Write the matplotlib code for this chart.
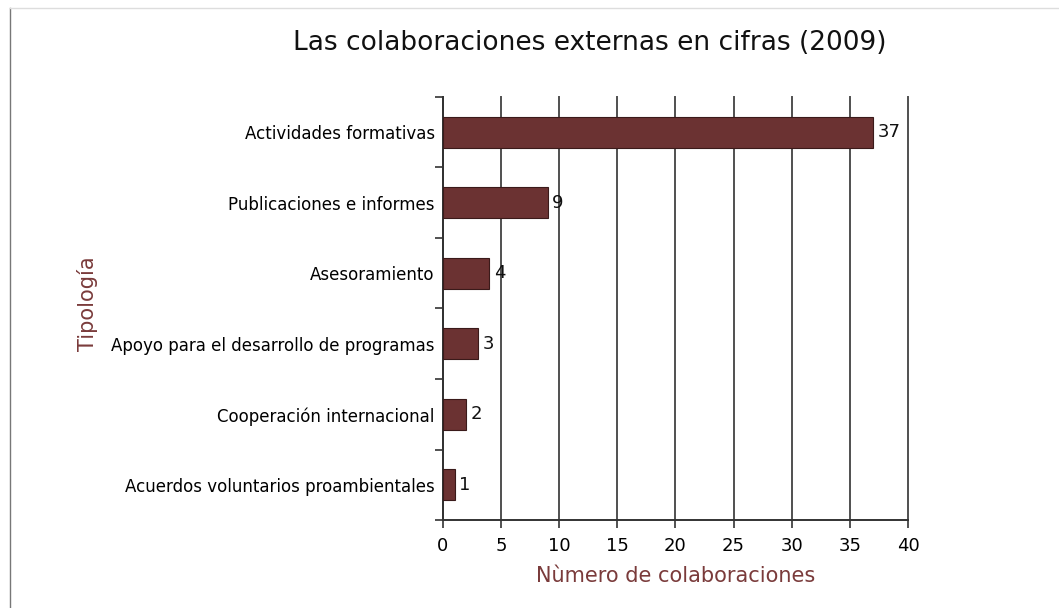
import matplotlib
matplotlib.use("Agg")
import matplotlib.pyplot as plt
from matplotlib.lines import Line2D
import numpy as np

categories = ["Actividades formativas", "Publicaciones e informes", "Asesoramiento",
              "Apoyo para el desarrollo de programas", "Cooperación internacional",
              "Acuerdos voluntarios proambientales"]
values = [37, 9, 4, 3, 2, 1]
xticks = [0, 5, 10, 15, 20, 25, 30, 35, 40]

bar_color = "#6B3232"
label_color = "#7A3B3B"
plt.rcParams['font.family'] = ['DejaVu Sans']

fig = plt.figure(figsize=(10.59, 6.08), dpi=100)
ax = fig.add_axes([0.4183, 0.1447, 0.4391, 0.6958])

y = np.arange(len(categories))
ax.barh(y, values, height=0.44, color=bar_color, edgecolor="#3a1a1a", linewidth=0.8, zorder=3)
for yi, v in zip(y, values):
    ax.text(v + 0.4, yi, str(v), va="center", ha="left", fontsize=13, color="#111111", zorder=4)

ax.set_xlim(0, 40)
ax.set_ylim(len(categories) - 0.5, -0.5)
ax.set_xticks(xticks)
ax.set_xticklabels([str(t) for t in xticks], fontsize=13)
ax.set_yticks(y)
ax.set_yticklabels(categories, fontsize=12)
ax.tick_params(axis='y', length=0, pad=6)
ax.set_yticks(np.arange(-0.5, len(categories), 1.0), minor=True)
ax.tick_params(axis='y', which='minor', length=6, width=1.2, color="#333333")
ax.tick_params(axis='x', length=6, width=1.2, color="#333333", pad=6)

ax.grid(axis='x', color="#505050", linewidth=1.4, zorder=0)
for gl in ax.get_xgridlines():
    gl.set_clip_on(False)
for s in ["top", "right"]:
    ax.spines[s].set_visible(False)
for s in ["left", "bottom"]:
    ax.spines[s].set_color("#333333")
    ax.spines[s].set_linewidth(1.4)

ax.set_xlabel("Nùmero de colaboraciones", fontsize=15, color=label_color, labelpad=8)
fig.text(0.083, 0.50, "Tipología", rotation=90, fontsize=15, color=label_color,
         ha="center", va="center")
fig.text(0.557, 0.93, "Las colaboraciones externas en cifras (2009)", fontsize=19,
         ha="center", va="center", color="#111111")

# figure frame lines
fig.add_artist(Line2D([0.0095, 0.0095], [0.0, 0.987], transform=fig.transFigure,
                      color="#777777", linewidth=1.0))
fig.add_artist(Line2D([0.0095, 1.0], [0.987, 0.987], transform=fig.transFigure,
                      color="#dddddd", linewidth=1.0))

fig.savefig("out.png", dpi=100)
